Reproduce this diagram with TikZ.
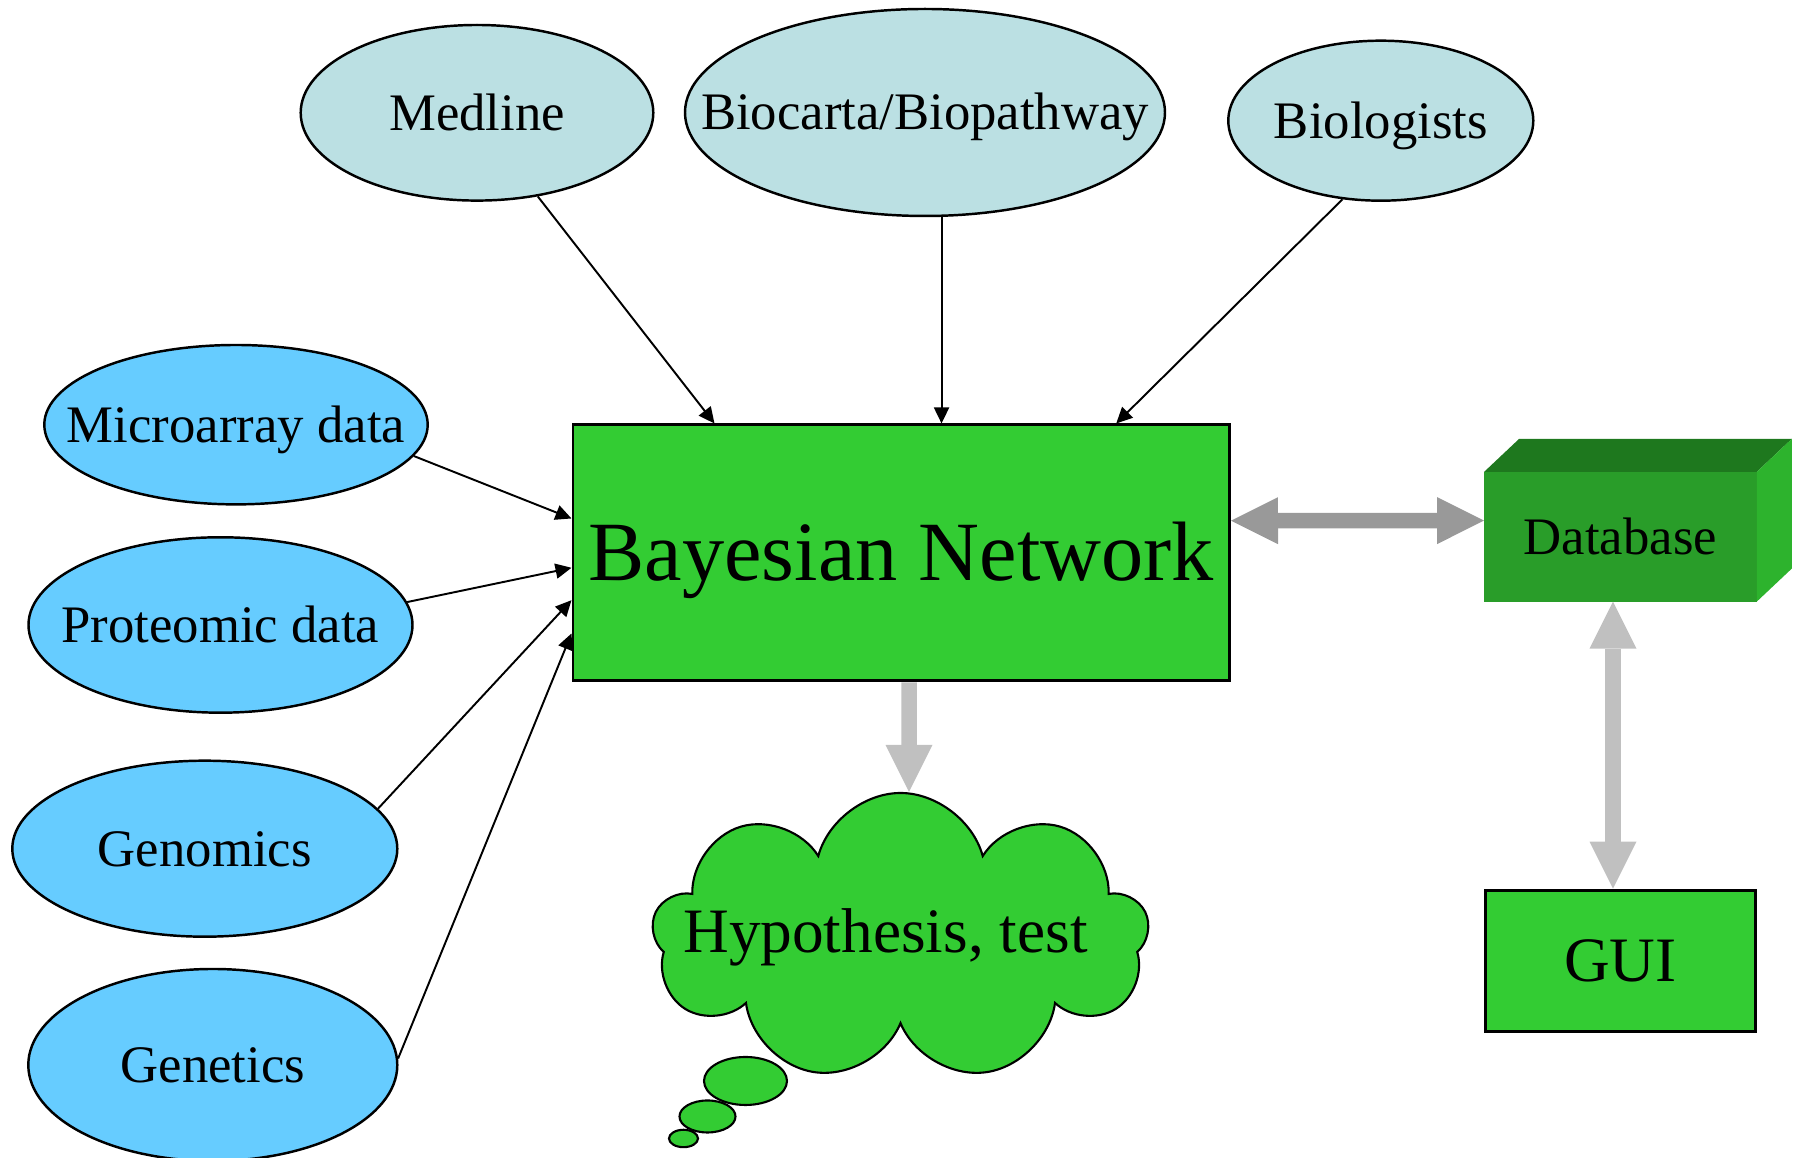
\documentclass[tikz,border=0pt]{standalone}
\usepackage{fontspec}
\setmainfont{Liberation Serif}
\usepackage{tikz}
\usetikzlibrary{calc,shapes,shapes.geometric,shapes.symbols,arrows.meta}
\usetikzlibrary{positioning}

\definecolor{srcblue}{RGB}{102,204,255}
\definecolor{refblue}{RGB}{187,224,227}
\definecolor{netgreen}{RGB}{51,204,51}
\definecolor{dbfront}{RGB}{41,157,41}
\definecolor{dbtop}{RGB}{30,120,30}
\definecolor{dbside}{RGB}{45,179,45}
\definecolor{midgray}{RGB}{153,153,153}
\definecolor{palegray}{RGB}{192,192,192}

\begin{document}
\begin{tikzpicture}[source/.style={ellipse,draw=black,fill=srcblue,line width=0.7pt,inner xsep=-1.5cm,
        font=\fontsize{15}{18}\selectfont,text height=9.9pt,text depth=0pt},
    reference/.style={source,fill=refblue},
    network/.style={rectangle,draw=black,fill=netgreen,line width=0.85pt},
    link/.style={-{Triangle[length=1.6mm,width=1.5mm]},line width=0.55pt},
    flow/.style={line width=1.55mm,color=palegray},
    bigtip/.tip={Triangle[length=4.7mm,width=4.7mm,line width=0pt]},
    bubble/.style={ellipse,draw=black,fill=netgreen,line width=0.6pt,inner sep=0pt},
    node distance=2.87cm
    ]
    \useasboundingbox (0,0) rectangle (18,11.58);

    % the network in the middle
    \node[network,minimum width=6.565cm,minimum height=2.56cm,
        font=\fontsize{24}{28}\selectfont,text height=15.6pt,text depth=0pt] (bn) at (9.0125,6.05) {Bayesian Network};

    % knowledge sources on top
    \foreach \name/\txt/\x/\y/\w/\h in {med/Medline/4.77/10.452/3.526/1.756,
        bpw/{Biocarta/Biopathway}/9.25/10.455/4.80/2.07,
        bio/Biologists/13.808/10.373/3.05/1.60} {
        \node[reference,minimum width=\w cm,minimum height=\h cm] (\name) at (\x,\y) {\txt};
    }

    % data sources on the left
    \foreach \name/\txt/\x/\y/\w/\h in {micro/Microarray data/2.36/7.333/3.834/1.594,
        prot/Proteomic data/2.205/5.33/3.84/1.754,
        genom/Genomics/2.048/3.093/3.85/1.76,
        genet/Genetics/2.128/0.93/3.69/1.92} {
        \node[source,minimum width=\w cm,minimum height=\h cm] (\name) at (\x,\y) {\txt};
    }

    \path[every edge/.style={draw,link}]
        (med.-54) edge ([xshift=1.43cm]bn.north west)
        (bpw.-81) edge (bpw.-81 |- bn.north)
        (bio.-116) edge ([xshift=5.447cm]bn.north west);

    \foreach \name/\ang/\dy in {micro/-10/0.95, prot/7/1.443, genom/13/1.767, genet/2/2.10} {
        \path[every edge/.style={draw,link}]
        (\name.\ang) edge ([yshift=-\dy*1cm]bn.north west);
    }

    % database box, drawn as a block
    \node[rectangle,fill=dbfront,minimum width=2.727cm,minimum height=1.297cm,outer sep=0pt,
        font=\fontsize{15}{18}\selectfont,text height=9.9pt,text depth=0pt] (db) at (16.204,6.212) {Database};
    \fill[dbtop] (db.north west) -- ++(0.35,0.33) -- ([shift={(0.35,0.33)}]db.north east) -- (db.north east) -- cycle;
    \fill[dbside] (db.north east) -- ++(0.35,0.33) -- ([shift={(0.35,0.33)}]db.south east) -- (db.south east) -- cycle;

    \node[network,minimum width=2.70cm,minimum height=1.41cm,below=of db,
        font=\fontsize{18}{22}\selectfont,text height=11.9pt,text depth=0pt] (gui) {GUI};

    % thought cloud
    \node[cloud,cloud puffs=9,cloud puff arc=150,cloud ignores aspect,draw=black,fill=netgreen,line width=0.6pt,
        minimum width=4.97cm,minimum height=2.88cm,
        label={[font=\fontsize{18}{22}\selectfont,text height=11.9pt,text depth=0pt,xshift=-1.5mm,yshift=0.5mm]center:{Hypothesis, test}}]
        (cloud) at (9.005,2.21) {};
    \foreach \i/\x/\y/\w/\h in {1/7.455/0.77/0.83/0.48, 2/7.075/0.415/0.56/0.32, 3/6.835/0.195/0.29/0.174} {
        \node[bubble,minimum width=\w cm,minimum height=\h cm] (bub\i) at (\x,\y) {};
    }

    % wide grey arrows
    \draw[flow,color=midgray,bigtip-bigtip] ([yshift=0.323cm]bn.east) -- ([yshift=0.162cm]db.west);
    \draw[flow,bigtip-bigtip] ([xshift=-0.074cm]db.south) -- ([xshift=-0.074cm]gui.north);
    \draw[flow,-bigtip] ([xshift=0.078cm]bn.south) -- ([xshift=0.085cm]cloud.north);

\end{tikzpicture}
\end{document}
